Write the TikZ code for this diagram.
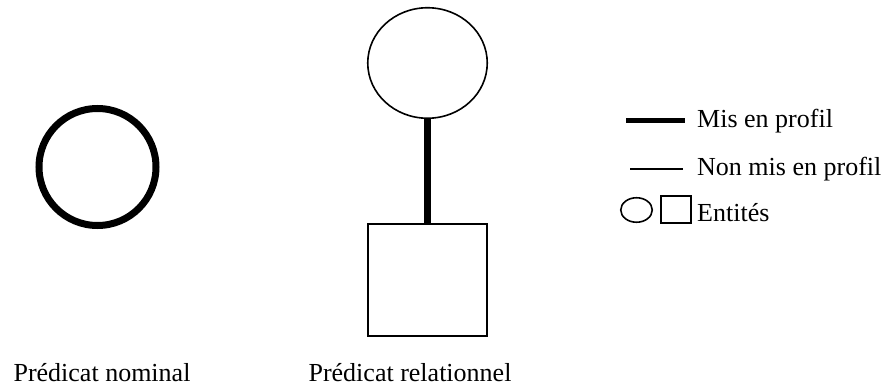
\documentclass[tikz,border=0pt]{standalone}
\usepackage{fontspec}
\setmainfont{Liberation Serif}
\usetikzlibrary{shapes.geometric}
\begin{document}
\begin{tikzpicture}[x=1pt,y=-1pt,
  lbl/.style={font=\fontsize{26}{30}\selectfont, inner sep=0pt},
  ent/.style={draw, line width=1.6pt, inner sep=0pt, outer sep=0pt},
  prof/.style={line width=7.5pt},
  nonprof/.style={line width=2pt}]
\useasboundingbox (0,0) rectangle (891,387);
% Predicat nominal
\node[ent, circle, line width=7pt, minimum size=117pt] (nom) at (97.5,167) {};
\node[lbl, anchor=base] (nomlbl) at (102,381) {Prédicat nominal};
% Predicat relationnel
\node[ent, ellipse, minimum width=119.5pt, minimum height=110.5pt] (top) at (427.5,63) {};
\node[ent, rectangle, minimum width=119.5pt, minimum height=112.5pt] (sq) at (427.5,280) {};
\draw[prof] (top.south) -- (sq.north);
\node[lbl, anchor=base] (rellbl) at (410,381) {Prédicat relationnel};
% Legend
\coordinate (p1) at (626,121);
\coordinate (p2) at (685,121);
\draw[prof, line width=5pt] (p1) -- (p2);
\node[lbl, anchor=base west] (l1) at (697,128) {Mis en profil};
\coordinate (n1) at (630,169);
\coordinate (n2) at (683,169);
\draw[nonprof] (n1) -- (n2);
\node[lbl, anchor=base west] (l2) at (697,176) {Non mis en profil};
\node[ent, ellipse, minimum width=31.5pt, minimum height=24.5pt] (lc) at (636.5,210) {};
\node[ent, rectangle, minimum width=30.5pt, minimum height=27.5pt] (ls) at (676,209.5) {};
\node[lbl, anchor=base west] (l3) at (697,222) {Entités};
\end{tikzpicture}
\end{document}
